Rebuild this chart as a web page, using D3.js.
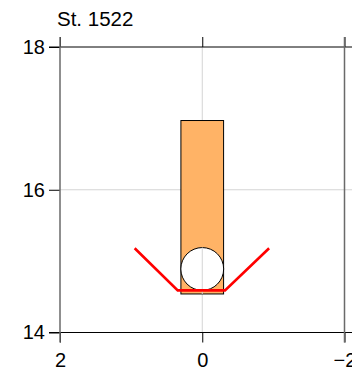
<!DOCTYPE html>
<html><head><meta charset="utf-8">
<script src="https://cdn.jsdelivr.net/npm/d3@7"></script>
<style>
html,body{margin:0;padding:0;background:#fff;}
svg{display:block;font-family:"Liberation Sans",Arial,sans-serif;}
</style></head>
<body>
<svg id="chart" width="352" height="372"></svg>
<script>
const title = "St. 1522";
const xTicks = [2, 0, -2];
const yTicks = [14, 16, 18];
// bar: x extent and y extent
const barX = [0.3, -0.3];
const barY = [14.54, 16.97];
// circle: center and radius
const circleCenter = [0, 14.89];
const circleRadius = 0.3;
// red line points
const redX = [0.95, 0.345, -0.32, -0.94];
const redY = [15.18, 14.59, 14.59, 15.18];

const svg = d3.select("#chart");
const x = d3.scaleLinear().domain([2, -2]).range([60, 344.5]);
const y = d3.scaleLinear().domain([14, 18]).range([332.5, 47]);
const FS = 20;

// light gridlines
svg.append("g").selectAll("line").data(xTicks.filter(d => d === 0)).join("line")
  .attr("x1", d => x(d)).attr("x2", d => x(d)).attr("y1", y(18)).attr("y2", y(14))
  .attr("stroke", "#d4d4d4").attr("stroke-width", 1);
svg.append("g").selectAll("line").data(yTicks.filter(d => d === 16)).join("line")
  .attr("x1", x(2)).attr("x2", 352).attr("y1", d => y(d)).attr("y2", d => y(d))
  .attr("stroke", "#d4d4d4").attr("stroke-width", 1);

// bar
svg.append("rect")
  .attr("x", x(barX[0])).attr("width", x(barX[1]) - x(barX[0]))
  .attr("y", y(barY[1])).attr("height", y(barY[0]) - y(barY[1]))
  .attr("fill", "#FFB366").attr("stroke", "#000").attr("stroke-width", 1);

// circle
svg.append("circle")
  .attr("cx", x(circleCenter[0])).attr("cy", y(circleCenter[1]))
  .attr("r", y(circleCenter[1] - circleRadius) - y(circleCenter[1]))
  .attr("fill", "#fff").attr("stroke", "#000").attr("stroke-width", 1);
// gridline visible through the circle and below bar
svg.append("line")
  .attr("x1", x(0)).attr("x2", x(0))
  .attr("y1", y(circleCenter[1] + circleRadius)).attr("y2", y(barY[0]))
  .attr("stroke", "#d4d4d4").attr("stroke-width", 1);

// red line
const pts = redX.map((d, i) => [d, redY[i]]);
svg.append("path")
  .attr("d", d3.line().x(d => x(d[0])).y(d => y(d[1]))(pts))
  .attr("fill", "none").attr("stroke", "#ff0000").attr("stroke-width", 2.6);

// horizontal black lines at 14 and 18
svg.append("g").selectAll("line").data([14, 18]).join("line")
  .attr("x1", x(2) - 11).attr("x2", 352).attr("y1", d => y(d)).attr("y2", d => y(d))
  .attr("stroke", "#000").attr("stroke-width", 1);

// y axis ticks/labels
const yAxis = d3.axisLeft(y).tickValues(yTicks).tickSize(11).tickPadding(4).tickFormat(d3.format("d"));
const gy = svg.append("g").attr("transform", `translate(${x(2)},0)`).call(yAxis);
gy.select(".domain").remove();
gy.selectAll("line").attr("stroke", "#000");
gy.selectAll("text").attr("font-size", FS).attr("fill", "#000").attr("font-family", "Liberation Sans, Arial, sans-serif");

// x axis bottom
const xAxis = d3.axisBottom(x).tickValues(xTicks).tickSize(10).tickPadding(10).tickFormat(d3.format("d"));
const gx = svg.append("g").attr("transform", `translate(0,${y(14)})`).call(xAxis);
gx.select(".domain").remove();
gx.selectAll("line").attr("stroke", "#000");
gx.selectAll("text").attr("font-size", FS).attr("fill", "#000").attr("font-family", "Liberation Sans, Arial, sans-serif");
// x axis top ticks
const xTop = d3.axisTop(x).tickValues(xTicks).tickSize(10).tickFormat("");
const gt = svg.append("g").attr("transform", `translate(0,${y(18)})`).call(xTop);
gt.select(".domain").remove();
gt.selectAll("line").attr("stroke", "#000");

// gray vertical lines at x = ±2
svg.append("g").selectAll("line").data(xTicks.filter(d => d !== 0)).join("line")
  .attr("x1", d => x(d)).attr("x2", d => x(d)).attr("y1", y(18) - 10).attr("y2", y(14) + 10)
  .attr("stroke", "#6a6a6a").attr("stroke-width", 1.5);

// title
svg.append("text").attr("x", 57).attr("y", 26).attr("font-size", 20.5).attr("fill", "#000").text(title);
</script>
</body></html>
